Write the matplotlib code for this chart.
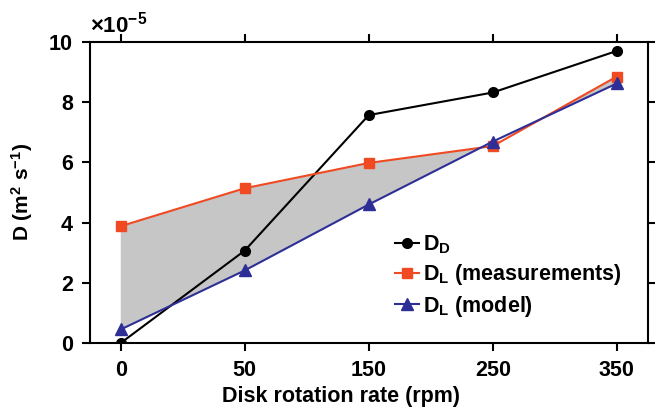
import matplotlib
matplotlib.use('Agg')
import matplotlib.pyplot as plt
import numpy as np

plt.rcParams['font.family'] = ['Liberation Sans', 'DejaVu Sans']
plt.rcParams['font.weight'] = 'bold'
plt.rcParams['mathtext.fontset'] = 'custom'
plt.rcParams['mathtext.rm'] = 'Liberation Sans:bold'
plt.rcParams['mathtext.bf'] = 'Liberation Sans:bold'
plt.rcParams['mathtext.default'] = 'bf'

rpm_labels = ['0', '50', '150', '250', '350']
d_d = [0.0, 3.07, 7.57, 8.32, 9.70]
d_l_meas = [3.88, 5.14, 5.98, 6.54, 8.85]
d_l_model = [0.45, 2.41, 4.60, 6.69, 8.62]

x = np.arange(len(rpm_labels))

fig = plt.figure(figsize=(6.55, 4.15), dpi=100)
ax = fig.add_axes([0.137, 0.1735, 0.852, 0.7255])

meas = np.array(d_l_meas)
model = np.array(d_l_model)
ax.fill_between(x, meas, model, where=meas >= model, interpolate=True,
                color='#c6c6c6', linewidth=0)

ax.plot(x, d_d, '-o', color='black', lw=1.5, ms=7, label='D$_D$')
ax.plot(x, d_l_meas, '-s', color='#f04a23', lw=1.5, ms=6.5, label='D$_L$ (measurements)')
ax.plot(x, d_l_model, '-^', color='#2e2f96', lw=1.5, ms=8, label='D$_L$ (model)')

ax.set_xlim(-0.25, 4.25)
ax.set_ylim(0, 10)
ax.set_xticks(x)
ax.set_xticklabels(rpm_labels)
ax.set_yticks([0, 2, 4, 6, 8, 10])
ax.tick_params(direction='out', length=6, width=1.5, labelsize=15.5,
               top=True, right=True, pad=6)
for s in ax.spines.values():
    s.set_linewidth(1.5)

ax.set_xlabel('Disk rotation rate (rpm)', fontsize=15.5, fontweight='bold',
              labelpad=4, x=0.45)
ax.set_ylabel('D (m$^2$ s$^{-1}$)', fontsize=15, fontweight='bold', labelpad=10)
ax.text(0.0, 1.015, r'$\times$10$^{-5}$', transform=ax.transAxes,
        fontsize=16, fontweight='bold', ha='left', va='bottom')

ax.legend(loc='lower right', bbox_to_anchor=(0.98, 0.03), frameon=False,
          fontsize=15.5, handlelength=1.1, handletextpad=0.2, labelspacing=0.3,
          borderpad=0.2)

fig.savefig('out.png', dpi=100)
